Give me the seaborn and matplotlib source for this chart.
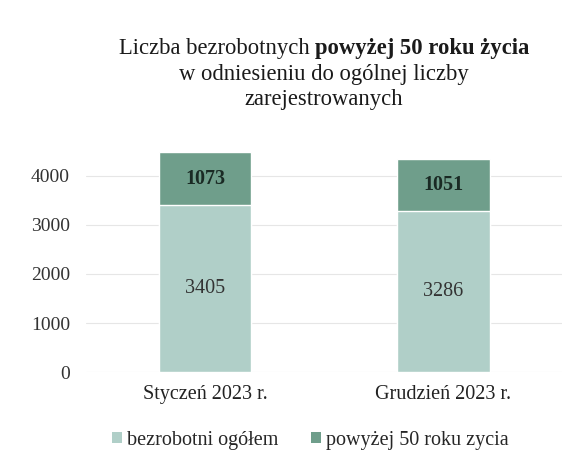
import matplotlib
matplotlib.use("Agg")
import matplotlib.pyplot as plt
import seaborn as sns
import pandas as pd
from matplotlib.patches import Patch

categories = ["Styczeń 2023 r.", "Grudzień 2023 r."]
ogolem = [3405, 3286]
powyzej50 = [1073, 1051]
series_names = ["bezrobotni ogółem", "powyżej 50 roku zycia"]
yticks = [0, 1000, 2000, 3000, 4000]

c_bottom = "#b0cfc8"
c_top = "#6f9e8b"

sns.set_theme(style="white")
plt.rcParams["font.family"] = ["Liberation Serif", "DejaVu Serif"]

df = pd.DataFrame({"cat": categories, "ogolem": ogolem, "p50": powyzej50})
df["total"] = df["ogolem"] + df["p50"]

fig = plt.figure(figsize=(5.85, 4.68), dpi=100)
ax = fig.add_axes([0.147, 0.205, 0.814, 0.482])

sns.barplot(data=df, x="cat", y="total", color=c_top, saturation=1, width=0.39, ax=ax, zorder=3)
sns.barplot(data=df, x="cat", y="ogolem", color=c_bottom, saturation=1, width=0.39, ax=ax, zorder=4)

ax.set_xlim(-0.5, 1.5)
ax.set_ylim(0, 4600)
ax.set_yticks(yticks)
ax.set_yticklabels([str(v) for v in yticks], fontsize=14, color="#333333")
ax.tick_params(axis="x", labelsize=14.5, colors="#222222", length=0, pad=9)
ax.tick_params(axis="y", length=0, pad=11.5)
ax.set_xlabel("")
ax.set_ylabel("")
for s in ax.spines.values():
    s.set_visible(False)
ax.yaxis.grid(True, color="#e6e6e6", linewidth=0.8, zorder=0)
ax.set_axisbelow(True)

for i, (b, t) in enumerate(zip(ogolem, powyzej50)):
    ax.text(i, b / 2, str(b), ha="center", va="center", fontsize=14.5, color="#333333", zorder=5)
    ax.text(i, b + t / 2, str(t), ha="center", va="center", fontsize=14.5, fontweight="bold", color="#1a2a24", zorder=5)

# Title with mixed weight on first line
fs = 16.3
fig.canvas.draw()
r = fig.canvas.get_renderer()
p1 = fig.text(0, 0, "Liczba bezrobotnych ", fontsize=fs, color="#1a1a1a")
p2 = fig.text(0, 0, "powyżej 50 roku życia", fontsize=fs, fontweight="bold", color="#1a1a1a")
w1 = p1.get_window_extent(r).width / fig.bbox.width
w2 = p2.get_window_extent(r).width / fig.bbox.width
cx = 0.554
x0 = cx - (w1 + w2) / 2
y1 = 1 - 54 / 468
p1.set_position((x0, y1)); p1.set_va("baseline")
p2.set_position((x0 + w1, y1)); p2.set_va("baseline")
fig.text(cx, 1 - 80 / 468, "w odniesieniu do ogólnej liczby", fontsize=fs, ha="center", va="baseline", color="#1a1a1a")
fig.text(cx, 1 - 105 / 468, "zarejestrowanych", fontsize=fs, ha="center", va="baseline", color="#1a1a1a")

handles = [Patch(facecolor=c_bottom, edgecolor="none"), Patch(facecolor=c_top, edgecolor="none")]
fig.legend(handles, series_names, loc="center", bbox_to_anchor=(0.53, 1 - 440 / 468), ncol=2,
           frameon=False, fontsize=14.5, handlelength=0.5, handleheight=0.5, handletextpad=0.25,
           columnspacing=1.6)

fig.savefig("out.png", dpi=100, facecolor="white")
